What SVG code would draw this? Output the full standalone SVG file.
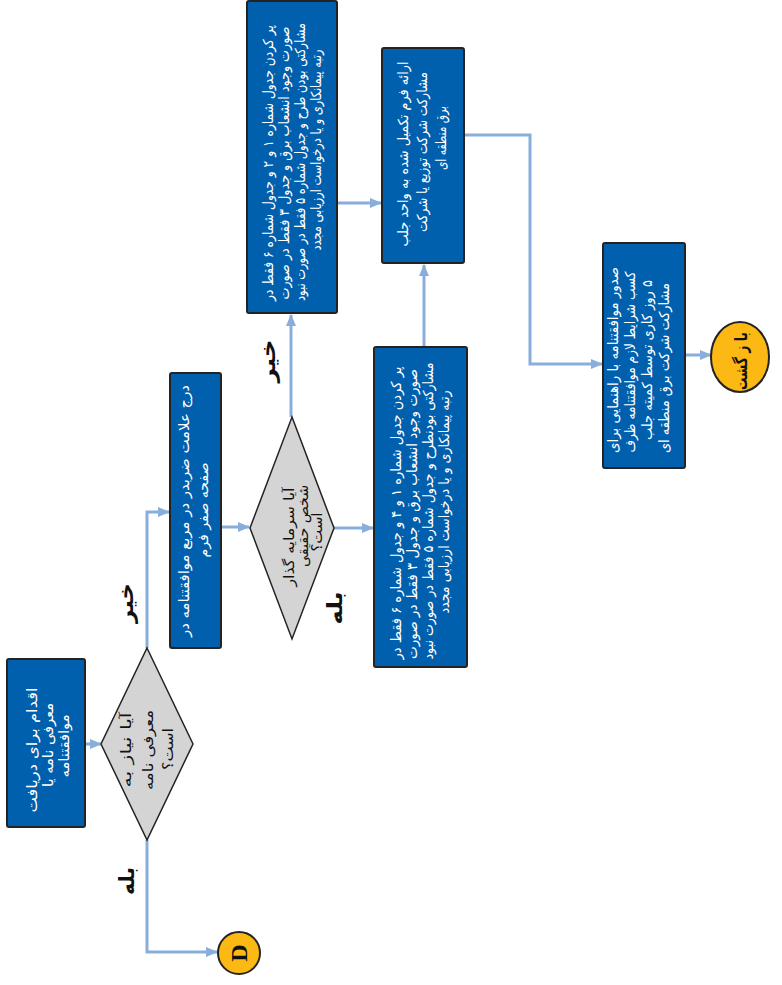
<svg xmlns="http://www.w3.org/2000/svg" width="782" height="985" viewBox="0 0 782 985">
  <defs>
    <marker id="arr" viewBox="0 0 12 10" refX="11" refY="5" markerWidth="12" markerHeight="10" markerUnits="userSpaceOnUse" orient="auto">
      <path d="M0,0 L12,5 L0,10 Z" fill="#8AAEDB"/>
    </marker>
    <style>
      .box { fill: #0060AE; stroke: #232323; stroke-width: 2; }
      .dia { fill: #D4D4D4; stroke: #232323; stroke-width: 1.5; }
      .term { fill: #FDB913; stroke: #232323; stroke-width: 2; }
      .wire { fill: none; stroke: #8AAEDB; stroke-width: 3; }
      .bt { font-family: 'DejaVu Sans', sans-serif; font-size: 14px; fill: #ffffff; text-anchor: middle; direction: rtl; unicode-bidi: embed; }
      .dt { font-family: 'DejaVu Sans', sans-serif; font-size: 14px; fill: #111111; text-anchor: middle; direction: rtl; unicode-bidi: embed; }
      .lb { font-family: 'DejaVu Sans', sans-serif; font-size: 21px; font-weight: bold; fill: #111111; text-anchor: middle; direction: rtl; unicode-bidi: embed; }
    </style>
  </defs>

  <!-- connectors -->
  <g id="connectors">
    <path class="wire" d="M85,744 L101,744" marker-end="url(#arr)"/>
    <path class="wire" d="M147,648 L147,512 L169,512" marker-end="url(#arr)"/>
    <path class="wire" d="M147,840 L147,952 L217,952" marker-end="url(#arr)"/>
    <path class="wire" d="M221,527 L249,527" marker-end="url(#arr)"/>
    <path class="wire" d="M291,417 L291,315" marker-end="url(#arr)"/>
    <path class="wire" d="M334,528 L373,528" marker-end="url(#arr)"/>
    <path class="wire" d="M337,203 L381,203" marker-end="url(#arr)"/>
    <path class="wire" d="M424,347 L424,265" marker-end="url(#arr)"/>
    <path class="wire" d="M464,135 L530,135 L530,364 L602,364" marker-end="url(#arr)"/>
    <path class="wire" d="M685,355 L711,355" marker-end="url(#arr)"/>
    <text class="lb" transform="translate(133,603) rotate(-90)" textLength="40" lengthAdjust="spacingAndGlyphs">خیر</text>
    <text class="lb" transform="translate(134,881) rotate(-90)" textLength="28" lengthAdjust="spacingAndGlyphs">بله</text>
    <text class="lb" transform="translate(275,361) rotate(-90)" textLength="43" lengthAdjust="spacingAndGlyphs">خیر</text>
    <text class="lb" transform="translate(342,608) rotate(-90)" textLength="33" lengthAdjust="spacingAndGlyphs">بله</text>
  </g>

  <!-- start: request introduction letter -->
  <g id="n-start">
    <rect class="box" x="7" y="659" width="78" height="168" rx="2"/>
    <text class="bt" font-size="15" transform="translate(37,750) rotate(-90)" textLength="125" lengthAdjust="spacingAndGlyphs">اقدام برای دریافت</text>
    <text class="bt" font-size="15" transform="translate(53,745) rotate(-90)" textLength="84" lengthAdjust="spacingAndGlyphs">معرفی نامه یا</text>
    <text class="bt" font-size="15" transform="translate(69,746) rotate(-90)" textLength="63" lengthAdjust="spacingAndGlyphs">موافقتنامه</text>
  </g>

  <!-- decision: introduction letter needed? -->
  <g id="n-q1">
    <polygon class="dia" points="147,648 193,744 147,840 101,744"/>
    <text class="dt" font-size="15" transform="translate(131,750) rotate(-90)" textLength="75" lengthAdjust="spacingAndGlyphs">آیا نیاز به</text>
    <text class="dt" font-size="15" transform="translate(153,750) rotate(-90)" textLength="80" lengthAdjust="spacingAndGlyphs">معرفی نامه</text>
    <text class="dt" font-size="15" transform="translate(173,749) rotate(-90)" textLength="42" lengthAdjust="spacingAndGlyphs">است؟</text>
  </g>

  <!-- terminator D -->
  <g id="n-d">
    <circle class="term" cx="239" cy="953" r="21"/>
    <text transform="translate(247,953) rotate(-90)" font-family="'Liberation Serif', serif" font-size="24" font-weight="bold" fill="#111" text-anchor="middle">D</text>
  </g>

  <!-- mark checkbox on form page zero -->
  <g id="n-mark">
    <rect class="box" x="170" y="373" width="51" height="275" rx="2"/>
    <text class="bt" transform="translate(189,511) rotate(-90)" textLength="252" lengthAdjust="spacingAndGlyphs">درج علامت ضربدر در مربع موافقتنامه در</text>
    <text class="bt" transform="translate(208,510) rotate(-90)" textLength="95" lengthAdjust="spacingAndGlyphs">صفحه صفر فرم</text>
  </g>

  <!-- decision: natural person? -->
  <g id="n-q2">
    <polygon class="dia" points="292,417 334,528 292,639 250,528"/>
    <text class="dt" font-size="13" transform="translate(294,537) rotate(-90)" textLength="99" lengthAdjust="spacingAndGlyphs">آیا سرمایه گذار</text>
    <text class="dt" font-size="13" transform="translate(308,526) rotate(-90)" textLength="82" lengthAdjust="spacingAndGlyphs">شخص حقیقی</text>
    <text class="dt" font-size="13" transform="translate(322,532) rotate(-90)" textLength="39" lengthAdjust="spacingAndGlyphs">است؟</text>
  </g>

  <!-- fill tables 1, 2 (legal person) -->
  <g id="n-legal">
    <rect class="box" x="247" y="1" width="90" height="312" rx="2"/>
    <text class="bt" font-size="12.5" transform="translate(273,163) rotate(-90)" textLength="276" lengthAdjust="spacingAndGlyphs">پر کردن جدول شماره ۱ و ۲ و جدول شماره ۶ فقط در</text>
    <text class="bt" font-size="12.5" transform="translate(289,163) rotate(-90)" textLength="273" lengthAdjust="spacingAndGlyphs">صورت وجود انشعاب برق و جدول ۳ فقط در صورت</text>
    <text class="bt" font-size="12.5" transform="translate(305,162) rotate(-90)" textLength="278" lengthAdjust="spacingAndGlyphs">مشارکتی بودن طرح و جدول شماره ۵ فقط در صورت نبود</text>
    <text class="bt" font-size="12.5" transform="translate(321,150) rotate(-90)" textLength="201" lengthAdjust="spacingAndGlyphs">رتبه پیمانکاری و یا درخواست ارزیابی مجدد</text>
  </g>

  <!-- fill tables 1, 4 (natural person) -->
  <g id="n-natural">
    <rect class="box" x="374" y="347" width="93" height="320" rx="2"/>
    <text class="bt" font-size="13.5" transform="translate(401,513) rotate(-90)" textLength="293" lengthAdjust="spacingAndGlyphs">پر کردن جدول شماره ۱ و ۴ و جدول شماره ۶ فقط در</text>
    <text class="bt" font-size="13.5" transform="translate(417,514) rotate(-90)" textLength="290" lengthAdjust="spacingAndGlyphs">صورت وجود انشعاب برق و جدول ۳ فقط در صورت</text>
    <text class="bt" font-size="13.5" transform="translate(433,511) rotate(-90)" textLength="297" lengthAdjust="spacingAndGlyphs">مشارکتی بودنطرح و جدول شماره ۵ فقط در صورت نبود</text>
    <text class="bt" font-size="13.5" transform="translate(449,502) rotate(-90)" textLength="223" lengthAdjust="spacingAndGlyphs">رتبه پیمانکاری و یا درخواست ارزیابی مجدد</text>
  </g>

  <!-- submit form to partnership unit -->
  <g id="n-submit">
    <rect class="box" x="382" y="48" width="82" height="215" rx="2"/>
    <text class="bt" font-size="14.5" transform="translate(408,154) rotate(-90)" textLength="185" lengthAdjust="spacingAndGlyphs">ارائه فرم تکمیل شده به واحد جلب</text>
    <text class="bt" font-size="14.5" transform="translate(427,152) rotate(-90)" textLength="160" lengthAdjust="spacingAndGlyphs">مشارکت شرکت توزیع یا شرکت</text>
    <text class="bt" font-size="14.5" transform="translate(446,138) rotate(-90)" textLength="64" lengthAdjust="spacingAndGlyphs">برق منطقه ای</text>
  </g>

  <!-- issue agreement -->
  <g id="n-issue">
    <rect class="box" x="603" y="243" width="82" height="225" rx="2"/>
    <text class="bt" font-size="14.5" transform="translate(618,360) rotate(-90)" textLength="186" lengthAdjust="spacingAndGlyphs">صدور موافقتنامه با راهنمایی برای</text>
    <text class="bt" font-size="14.5" transform="translate(635,362) rotate(-90)" textLength="181" lengthAdjust="spacingAndGlyphs">کسب شرایط لازم موافقتنامه ظرف</text>
    <text class="bt" font-size="14.5" transform="translate(652,360) rotate(-90)" textLength="160" lengthAdjust="spacingAndGlyphs">۵ روز کاری توسط کمیته جلب</text>
    <text class="bt" font-size="14.5" transform="translate(669,368) rotate(-90)" textLength="170" lengthAdjust="spacingAndGlyphs">مشارکت شرکت برق منطقه ای</text>
  </g>

  <!-- terminator: return -->
  <g id="n-return">
    <ellipse class="term" cx="740" cy="357" rx="29" ry="35"/>
    <text transform="translate(747,361) rotate(-90)" font-family="'DejaVu Sans', sans-serif" font-size="17" font-weight="bold" fill="#111" text-anchor="middle" direction="rtl" unicode-bidi="embed" textLength="58" lengthAdjust="spacingAndGlyphs">با ز گشت</text>
  </g>
</svg>
